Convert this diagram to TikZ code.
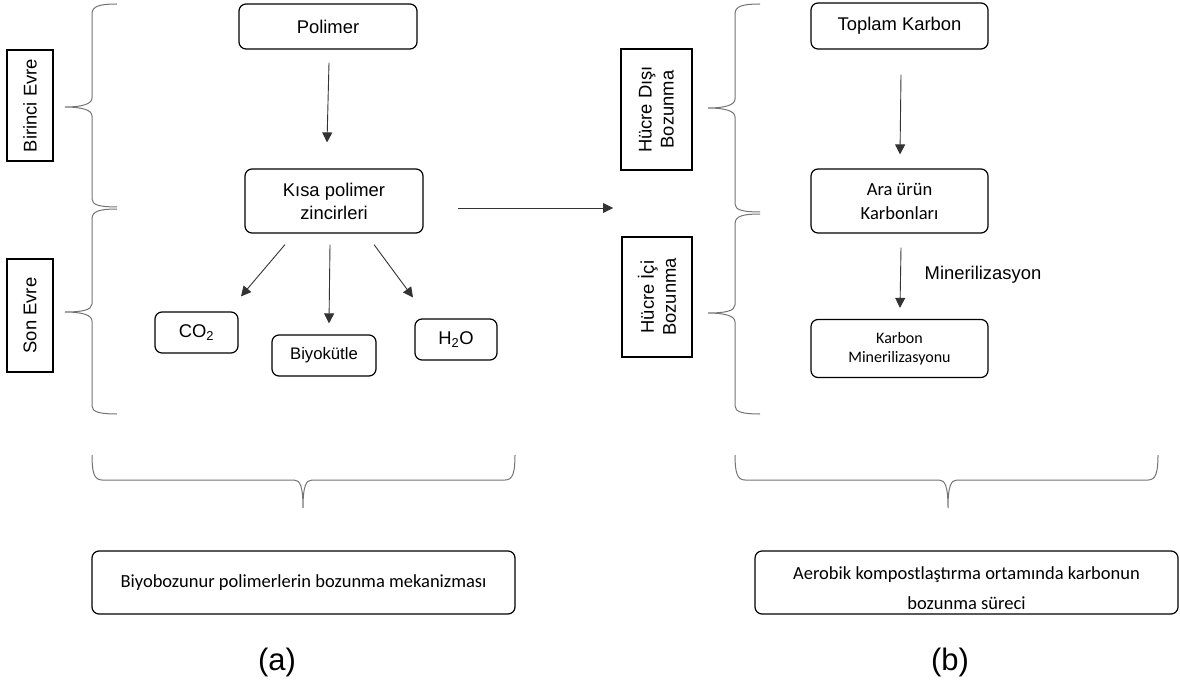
\documentclass[tikz,border=0pt]{standalone}
\usepackage{fontspec}
\setmainfont{Liberation Sans}
\newfontfamily\calib{Carlito}
\usetikzlibrary{arrows.meta,calc}
\begin{document}
\begin{tikzpicture}[x=1pt,y=-1pt,
  box/.style={draw=black,line width=1.2pt,rounded corners=7pt,align=center,inner sep=0pt,font=\fontsize{18.4}{23}\selectfont},
  sqbox/.style={draw=black,line width=1.2pt,align=center,inner sep=0pt,rotate=90,font=\fontsize{18.4}{22}\selectfont},
  arr/.style={draw=black!80,line width=0.9pt,-{Triangle[length=10pt,width=10pt]}},
  brc/.style={draw=black!55,line width=1pt},
  lbl/.style={inner sep=0pt,font=\fontsize{18.4}{22}\selectfont},
  captxt/.style={inner sep=0pt,font=\fontsize{31}{36}\selectfont}]
\useasboundingbox (0,0) rectangle (1180,695);

% ---- (a) ----
\node[box,minimum width=178,minimum height=45] (polimer) at (328,26.5) {Polimer};
\node[box,minimum width=178,minimum height=64] (kisa) at (334,201) {Kısa polimer\\zincirleri};
\node[box,minimum width=83,minimum height=41] (co2) at (196.5,332.5) {CO\textsubscript{2}};
\node[box,minimum width=104,minimum height=41,font=\fontsize{16.7}{20}\selectfont] (biyo) at (324,355.5) {Biyokütle};
\node[box,minimum width=82,minimum height=41] (h2o) at (456,339.5) {H\textsubscript{2}O};
\node[sqbox,minimum width=111,minimum height=46] (birinci) at (30,105.5) {Birinci Evre};
\node[sqbox,minimum width=113,minimum height=46] (son) at (30,315.5) {Son Evre};
\node[box,minimum width=423,minimum height=63,font=\calib\fontsize{18.5}{30}\selectfont] (boxa) at (303.5,582.5) {Biyobozunur polimerlerin bozunma mekanizması};
\node[captxt] (capa) at (277,662) {(a)};

\draw[arr] ($(polimer.south)+(1,13)$) -- ($(kisa.north)+(-7,-26)$);
\draw[arr] ($(kisa.south)+(-49,11)$) -- ($(co2.north)+(44.5,-15)$);
\draw[arr] ($(kisa.south)+(-4,11)$) -- ($(biyo.north)+(5,-11)$);
\draw[arr] ($(kisa.south)+(40,11)$) -- ($(h2o.north)+(-43,-21)$);
\coordinate (rt) at (613,208);
\draw[arr] ($(kisa.east)+(34,7)$) -- (rt);

% braces (a)
\draw[brc] (117,4) .. controls (100,4) and (92,6) .. (92,14) -- (92,98)
  .. controls (92,104) and (82,107) .. (65,107) .. controls (82,107) and (92,110) .. (92,116)
  -- (92,199) .. controls (92,205) and (100,207) .. (117,207);
\draw[brc] (117,209) .. controls (100,209) and (92,211) .. (92,219) -- (92,304)
  .. controls (92,310) and (82,312) .. (65,312) .. controls (82,312) and (92,315) .. (92,321)
  -- (92,406) .. controls (92,412) and (100,414) .. (117,414);
\draw[brc] (92,455) .. controls (92,472) and (94,480) .. (102,480) -- (294,480)
  .. controls (300,480) and (303,486) .. (303,508) .. controls (303,486) and (306,480) .. (312,480)
  -- (505,480) .. controls (513,480) and (515,472) .. (515,455);

% ---- (b) ----
\node[box,minimum width=177,minimum height=46] (toplam) at (899.5,26) {Toplam Karbon};
\node[box,minimum width=177,minimum height=64,font=\calib\fontsize{18.5}{24}\selectfont] (ara) at (899.5,201) {Ara ürün\\Karbonları};
\node[box,minimum width=177,minimum height=58,font=\calib\fontsize{16}{19.5}\selectfont] (karbon) at (899.5,348.5) {Karbon\\Minerilizasyonu};
\node[sqbox,minimum width=121,minimum height=71] (disi) at (656.5,109.5) {Hücre Dışı\\Bozunma};
\node[sqbox,minimum width=120,minimum height=70] (ici) at (657,297) {Hücre İçi\\Bozunma};
\node[lbl] (miner) at (983,275) {Minerilizasyon};
\node[box,minimum width=423,minimum height=63] (boxb) at (966.5,582.5) {};
\node[inner sep=0pt,align=center,font=\calib\fontsize{18.5}{30}\selectfont] (boxbtxt) at ($(boxb.center)+(0,5.5)$) {Aerobik kompostlaştırma ortamında karbonun\\bozunma süreci};
\node[captxt] (capb) at (950,662) {(b)};

\draw[arr] ($(toplam.south)+(1.5,25)$) -- ($(ara.north)+(0.5,-14)$);
\draw[arr] ($(ara.south)+(1.5,14)$) -- ($(karbon.north)+(0.5,-11)$);

% braces (b)
\draw[brc] (760,4) .. controls (743,4) and (735,6) .. (735,14) -- (735,99)
  .. controls (735,105) and (725,108) .. (708,108) .. controls (725,108) and (735,111) .. (735,117)
  -- (735,204) .. controls (735,210) and (743,212) .. (760,212);
\draw[brc] (760,214) .. controls (743,214) and (735,216) .. (735,224) -- (735,305)
  .. controls (735,311) and (725,313) .. (708,313) .. controls (725,313) and (735,316) .. (735,322)
  -- (735,406) .. controls (735,412) and (743,414) .. (760,414);
\draw[brc] (735,455) .. controls (735,472) and (737,480) .. (745,480) -- (939,480)
  .. controls (945,480) and (948,486) .. (948,508) .. controls (948,486) and (951,480) .. (957,480)
  -- (1148,480) .. controls (1156,480) and (1158,472) .. (1158,455);
\end{tikzpicture}
\end{document}
